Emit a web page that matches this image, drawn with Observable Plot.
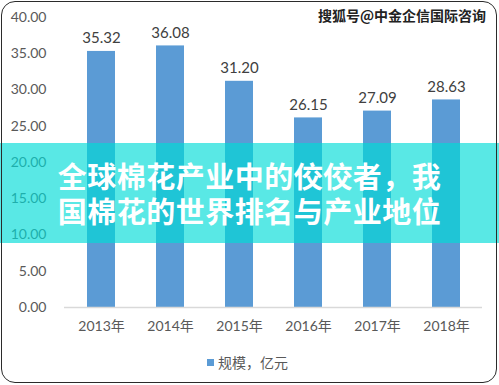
<!DOCTYPE html>
<html>
<head>
<meta charset="utf-8">
<script src="https://cdn.jsdelivr.net/npm/d3@7"></script>
<script src="https://cdn.jsdelivr.net/npm/@observablehq/plot@0.6"></script>
<style>
  html, body { margin: 0; padding: 0; background: #fff; }
  #wrap { position: relative; width: 499px; height: 385px; overflow: hidden; background: #fff;
          font-family: "Lato", "Noto Sans CJK SC", sans-serif; }
  #chart svg { display: block; }
  #banner { position: absolute; left: 0; top: 143px; width: 499px; height: 100px;
            background: rgba(0, 220, 215, 0.65); color: #fff; font-weight: bold;
            font-family: "Noto Sans CJK SC", sans-serif; font-size: 29px; line-height: 35px;
            text-align: center; display: flex; flex-direction: column; justify-content: center;
            letter-spacing: 0.5px; }
  #watermark { position: absolute; left: 318px; top: 5px; font-family: "Noto Sans CJK SC", sans-serif;
               font-weight: bold; font-size: 14px; color: #222;
               text-shadow: -1px 0 #fff, 1px 0 #fff, 0 -1px #fff, 0 1px #fff; white-space: nowrap; }
  #legend { position: absolute; left: 207px; top: 352px; font-size: 14px; color: #595959;
            font-family: "Noto Sans CJK SC", sans-serif; display: flex; align-items: center; white-space: nowrap; }
  #legend .sw { width: 7px; height: 7px; background: #5b9bd5; margin-right: 4px; }
  #frame { position: absolute; left: 1px; top: 1px; width: 496px; height: 382px; box-sizing: border-box;
           border: 1.5px solid #2b2b2b; border-radius: 14px; pointer-events: none; }
</style>
</head>
<body>
<div id="wrap">
  <div id="chart"></div>
  <div id="watermark"></div>
  <div id="banner"></div>
  <div id="legend"></div>
  <div id="frame"></div>
</div>
<script>
const years = ["2013年", "2014年", "2015年", "2016年", "2017年", "2018年"];
const values = [35.32, 36.08, 31.20, 26.15, 27.09, 28.63];
const yTicks = [0, 5, 10, 15, 20, 25, 30, 35, 40];
const seriesName = "规模，亿元";
const titleLines = ["全球棉花产业中的佼佼者，我", "国棉花的世界排名与产业地位"];
const watermarkText = "搜狐号@中金企信国际咨询";

const data = years.map((y, i) => ({year: y, value: values[i]}));

const chart = Plot.plot({
  width: 499,
  height: 385,
  marginTop: 17,
  marginBottom: 78,
  marginLeft: 64,
  marginRight: 17,
  style: {fontFamily: "Lato, 'Noto Sans CJK SC', sans-serif", background: "transparent"},
  x: {domain: years, paddingInner: 0.6, paddingOuter: 0.3, label: null},
  y: {domain: [0, 40], label: null},
  marks: [
    Plot.barY(data, {x: "year", y: "value", fill: "#5b9bd5"}),
    Plot.ruleY([0], {stroke: "#d9d9d9", strokeWidth: 1.5}),
    Plot.text(data, {x: "year", y: "value", text: d => d.value.toFixed(2), dy: -13,
                     fontSize: 15, fill: "#404040"}),
    Plot.axisY({ticks: yTicks, tickSize: 0, tickPadding: 18, tickFormat: d3.format(".2f"),
                fontSize: 14, fill: "#595959", label: null}),
    Plot.axisX({tickSize: 0, tickPadding: 14, fontSize: 14, fill: "#595959", label: null})
  ]
});
document.getElementById("chart").appendChild(chart);

document.getElementById("banner").innerHTML = titleLines.map(t => `<div>${t}</div>`).join("");
document.getElementById("watermark").textContent = watermarkText;
document.getElementById("legend").innerHTML = `<span class="sw"></span><span>${seriesName}</span>`;
</script>
</body>
</html>
